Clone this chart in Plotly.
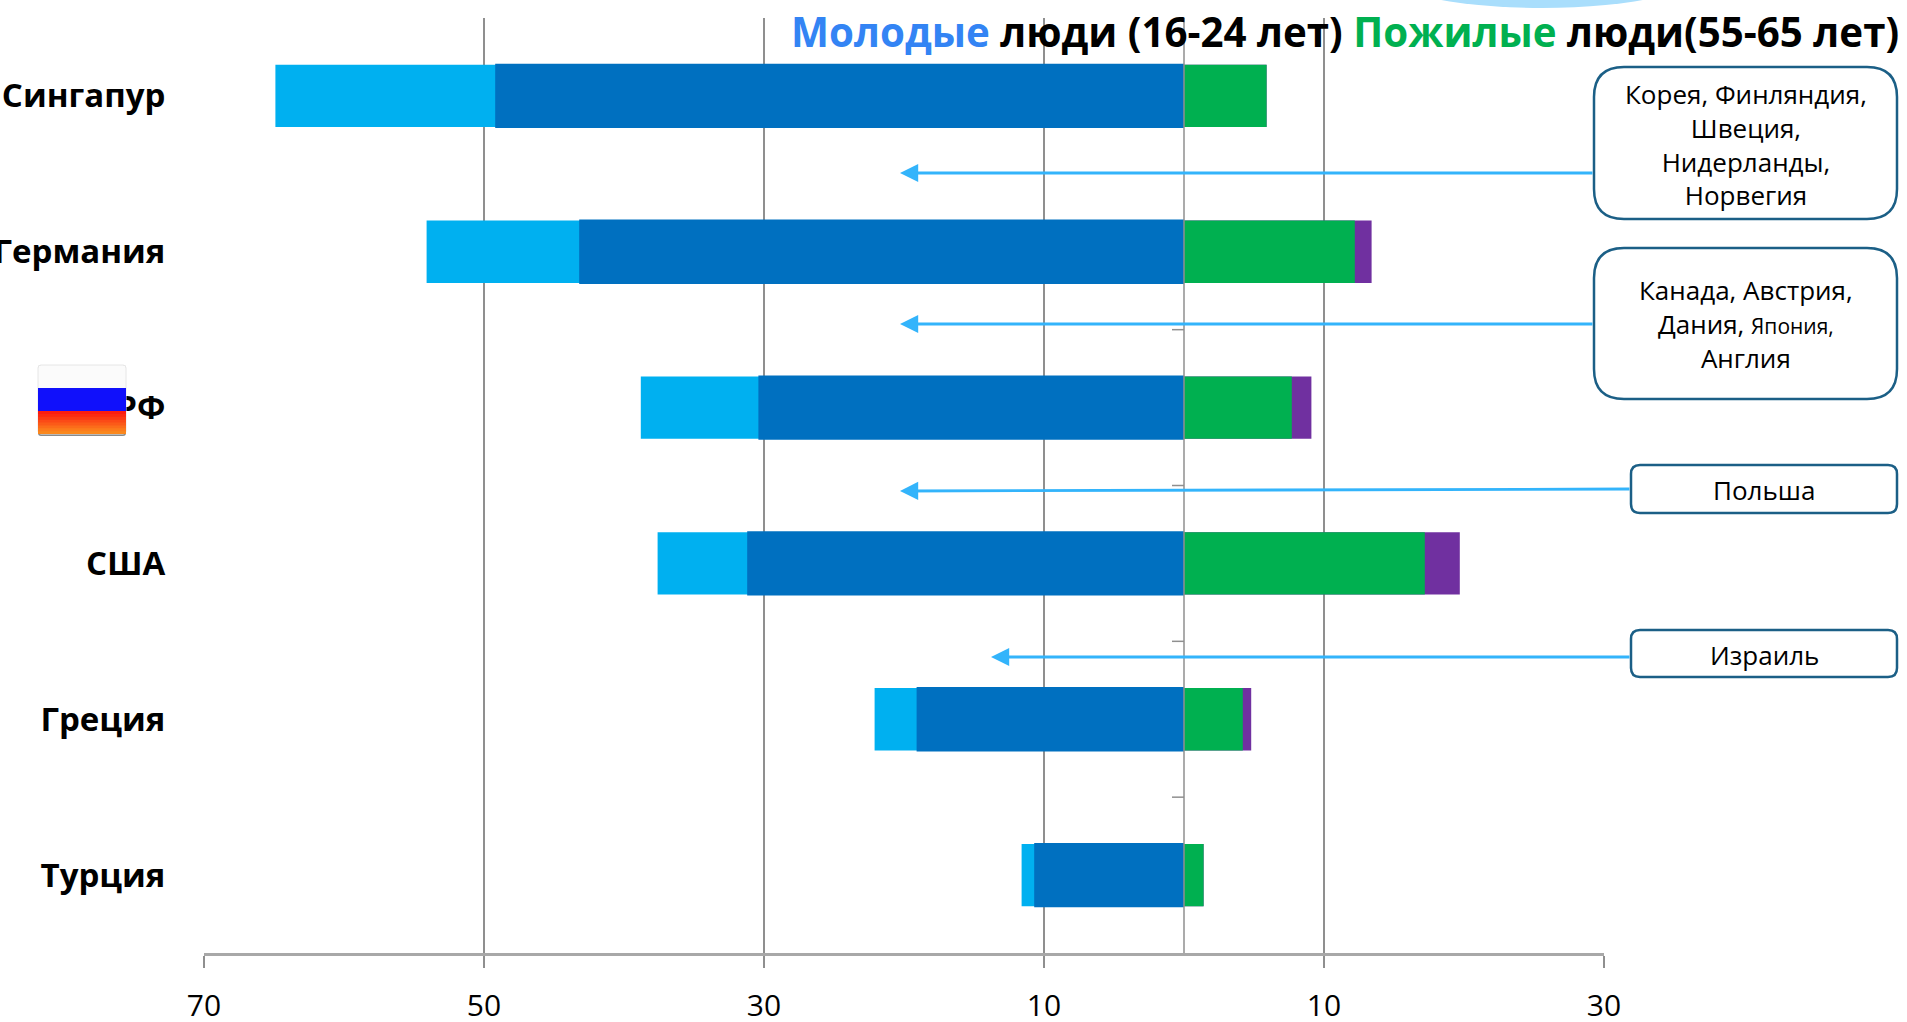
import plotly.graph_objects as go

W, H = 1907, 1022
L, R, T, B = 204, 1604, 18, 953

countries = ["Сингапур", "Германия", "РФ", "США", "Греция", "Турция"]
young_total = [64.9, 54.1, 38.8, 37.6, 22.1, 11.6]
young_main = [49.2, 43.2, 30.4, 31.2, 19.1, 10.7]
old_main = [5.9, 12.2, 7.7, 17.2, 4.2, 1.4]
old_total = [5.9, 13.4, 9.1, 19.7, 4.8, 1.4]
axis_ticks = [-70, -50, -30, -10, 10, 30]
axis_labels = ["70", "50", "30", "10", "10", "30"]
category_boundaries = [1.5, 2.5, 3.5, 4.5]

FONT = "Open Sans"
GRID = "#8f8f8f"
LIGHT, DARK, GREEN, PURPLE = "#00b0f0", "#0070c0", "#00b050", "#7030a0"
BORDER, ARROW = "#1b5f86", "#33b4fb"


def px(x):
    return (x - L) / (R - L)


def py(y):
    return (B - y) / (B - T)


def rounded(x0, y0, x1, y1, r):
    pts = [
        f"M {px(x0 + r)} {py(y0)}", f"L {px(x1 - r)} {py(y0)}",
        f"Q {px(x1)} {py(y0)} {px(x1)} {py(y0 + r)}", f"L {px(x1)} {py(y1 - r)}",
        f"Q {px(x1)} {py(y1)} {px(x1 - r)} {py(y1)}", f"L {px(x0 + r)} {py(y1)}",
        f"Q {px(x0)} {py(y1)} {px(x0)} {py(y1 - r)}", f"L {px(x0)} {py(y0 + r)}",
        f"Q {px(x0)} {py(y0)} {px(x0 + r)} {py(y0)}", "Z",
    ]
    return " ".join(pts)


fig = go.Figure()
for name, vals, sign, color, width in [
    ("Молодые, всего", young_total, -1, LIGHT, 0.40),
    ("Молодые", young_main, -1, DARK, 0.413),
    ("Пожилые, всего", old_total, 1, PURPLE, 0.40),
    ("Пожилые", old_main, 1, GREEN, 0.40),
]:
    fig.add_trace(go.Bar(
        y=countries, x=[sign * v for v in vals], orientation="h", name=name,
        marker=dict(color=color, line=dict(width=0)), width=width,
    ))

shapes = []
# zero line over the bars and the small category ticks
shapes.append(dict(type="line", xref="x", yref="paper", x0=0, x1=0, y0=0, y1=1,
                   line=dict(color=GRID, width=1.5), layer="above"))
for b in category_boundaries:
    shapes.append(dict(type="line", xref="paper", yref="y", x0=px(1172), x1=px(1184),
                       y0=b, y1=b, line=dict(color=GRID, width=1.5), layer="above"))

# pale decoration at the top edge
shapes.append(dict(type="circle", xref="paper", yref="paper",
                   x0=px(1376), x1=px(1708), y0=py(8), y1=py(-70),
                   fillcolor="#a9defc", line=dict(width=0), layer="above"))

# call-out boxes
for (x0, y0, x1, y1, r) in [
    (1594, 67, 1897, 219, 30),
    (1594, 248, 1897, 399, 30),
    (1631, 465, 1897, 513, 9),
    (1631, 630, 1897, 677, 9),
]:
    shapes.append(dict(type="path", xref="paper", yref="paper", path=rounded(x0, y0, x1, y1, r),
                       fillcolor="white", line=dict(color=BORDER, width=2.5), layer="above"))

# flag
fx0, fx1 = 38, 126
shapes.append(dict(type="path", xref="paper", yref="paper", path=rounded(fx0, 365, fx1, 436, 3),
                   fillcolor="#8a8a8a", line=dict(width=0), layer="above"))
shapes.append(dict(type="path", xref="paper", yref="paper", path=rounded(fx0, 365, fx1, 434, 3),
                   fillcolor="#fbfbfb", line=dict(color="#e6e6e6", width=1), layer="above"))
shapes.append(dict(type="rect", xref="paper", yref="paper", x0=px(fx0), x1=px(fx1), y0=py(388), y1=py(411),
                   fillcolor="#1010fb", line=dict(width=0), layer="above"))
bands = ["#fb1c10", "#fb2a12", "#fb3a14", "#fb4a16", "#fb5a18", "#fb6c1a", "#fb7c1c", "#f9881e"]
for i, c in enumerate(bands):
    shapes.append(dict(type="rect", xref="paper", yref="paper", x0=px(fx0), x1=px(fx1),
                       y0=py(411 + i * 23 / 8), y1=py(434),
                       fillcolor=c, line=dict(width=0), layer="above"))

annotations = []


def text(x, y, s, size, anchor="center", color="black"):
    annotations.append(dict(xref="paper", yref="paper", x=px(x), y=py(y), text=s, showarrow=False,
                            xanchor=anchor, yanchor="middle", align="center",
                            font=dict(family=FONT, size=size, color=color)))


text(1901, 31,
     f"<b><span style='color:#3384f4'>Молодые</span> люди (16-24 лет) "
     f"<span style='color:{GREEN}'>Пожилые</span> люди(55-65 лет)</b>", 40.3, anchor="right")
text(1746, 144, "Корея, Финляндия,<br>Швеция,<br>Нидерланды,<br>Норвегия", 26)
text(1746, 324, "Канада, Австрия,<br>Дания, <span style='font-size:21px'>Япония,</span><br>Англия", 26)
text(1764, 490, "Польша", 26)
text(1764, 655, "Израиль", 26)

for (x_tail, y_tail, x_tip, y_tip) in [
    (1594, 173, 900, 173),
    (1594, 324, 900, 324),
    (1631, 489, 900, 491),
    (1631, 657, 991, 657),
]:
    annotations.append(dict(xref="paper", yref="paper", x=px(x_tip), y=py(y_tip), text="",
                            showarrow=True, arrowhead=2, arrowsize=1.3, arrowwidth=2.8, arrowcolor=ARROW,
                            axref="pixel", ayref="pixel", ax=x_tail - x_tip, ay=y_tail - y_tip,
                            standoff=0, startstandoff=0))

fig.update_layout(
    width=W, height=H, autosize=False, showlegend=False, barmode="overlay",
    paper_bgcolor="white", plot_bgcolor="white",
    margin=dict(l=L, r=W - R, t=T, b=H - B, pad=0, autoexpand=False),
    shapes=shapes, annotations=annotations,
    font=dict(family=FONT, color="black"),
    xaxis=dict(range=[-70, 30], tickmode="array", tickvals=axis_ticks, ticktext=axis_labels,
               automargin=False,
               showgrid=True, gridcolor=GRID, gridwidth=1.5, zeroline=False,
               showline=True, linecolor="#a8a8a8", linewidth=2.5,
               ticks="outside", ticklen=12, tickcolor=GRID, tickwidth=1.5,
               tickangle=0, ticklabelstandoff=12, tickfont=dict(family=FONT, size=30, color="black")),
    yaxis=dict(type="category", categoryorder="array", categoryarray=countries, range=[5.5, -0.5],
               automargin=False,
               showgrid=False, zeroline=False, showline=False,
               ticks="outside", ticklen=31, tickcolor="rgba(0,0,0,0)",
               tickfont=dict(family=FONT, size=33, color="black", weight="bold")),
)

fig.write_html("out.html", config={"displayModeBar": False},
               post_script="document.body.style.margin='0';document.body.style.overflow='hidden';")
